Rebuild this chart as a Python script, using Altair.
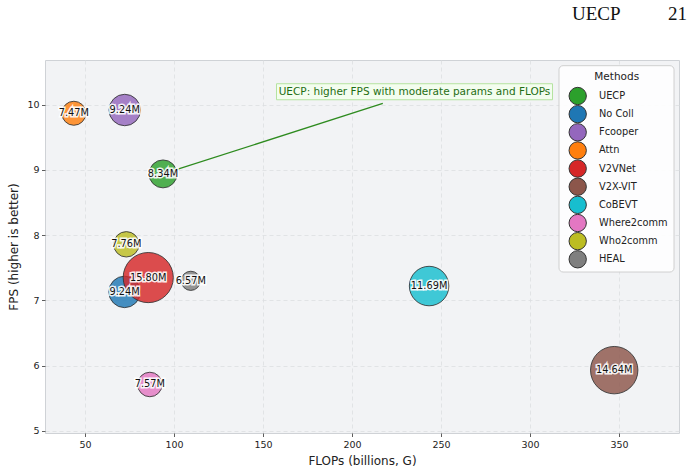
import math
import altair as alt
import pandas as pd

# ---- data ----
methods = ["UECP", "No Coll", "Fcooper", "Attn", "V2VNet", "V2X-VIT",
           "CoBEVT", "Where2comm", "Who2comm", "HEAL"]
flops = [93.8, 72.2, 72.3, 43.7, 85.5, 347.3, 243.3, 86.4, 73.2, 109.4]
fps = [8.94, 7.13, 9.92, 9.87, 7.35, 5.93, 7.22, 5.71, 7.86, 7.30]
params = [8.34, 9.24, 9.24, 7.47, 15.80, 14.64, 11.69, 7.57, 7.76, 6.57]
colors = ["#2ca02c", "#1f77b4", "#9467bd", "#ff7f0e", "#d62728", "#8c564b",
          "#17becf", "#e377c2", "#bcbd22", "#7f7f7f"]

annot_text = ["UECP: higher FPS with moderate params and FLOPs"]
annot_text_xy = [235.1, 10.20]
annot_arrow_end = [217.3, 10.02]

header_left = ["UECP"]
header_right = ["21"]
legend_title = ["Methods"]

x_ticks = [50, 100, 150, 200, 250, 300, 350]
y_ticks = [5, 6, 7, 8, 9, 10]
x_domain = [27.5, 383.7]
y_domain = [4.966, 10.687]

# bubble area scale (px^2): linear in params
size_domain = [6.232, 15.80]
size_range = [289, 2516]

df = pd.DataFrame({"method": methods, "flops": flops, "fps": fps, "params": params})
df["label"] = [f"{p:.2f}M" for p in params]
df["order"] = list(range(len(methods)))

xs = alt.Scale(domain=x_domain, nice=False, zero=False)
ys = alt.Scale(domain=y_domain, nice=False, zero=False)
color_scale = alt.Scale(domain=methods, range=colors)

x_enc = alt.X("flops:Q", scale=xs,
              axis=alt.Axis(values=x_ticks, format="d", title="FLOPs (billions, G)"))
y_enc = alt.Y("fps:Q", scale=ys,
              axis=alt.Axis(values=y_ticks, format="d", title="FPS (higher is better)",
                            titleX=-25))

base = alt.Chart(df)

# annotation line (from UECP bubble to text)
uecp_idx = methods.index("UECP")
line_df = pd.DataFrame({
    "flops": [flops[uecp_idx], annot_arrow_end[0]],
    "fps": [fps[uecp_idx], annot_arrow_end[1]],
    "seg": [0, 1],
})
line = alt.Chart(line_df).mark_line(color="#2e8b1f", strokeWidth=1.3).encode(
    x=alt.X("flops:Q", scale=xs), y=alt.Y("fps:Q", scale=ys), order="seg:Q")

points = base.mark_circle(fillOpacity=0.82, stroke="#333333", strokeWidth=1,
                          strokeOpacity=0.85).encode(
    x=x_enc,
    y=y_enc,
    color=alt.Color("method:N", scale=color_scale, legend=None),
    size=alt.Size("params:Q",
                  scale=alt.Scale(domain=size_domain, zero=False, range=size_range),
                  legend=None),
    order="order:Q",
)

halo = base.mark_text(fontSize=9.8, font="DejaVu Sans", stroke="white",
                      strokeWidth=3, strokeOpacity=0.9, color="white").encode(
    x=alt.X("flops:Q", scale=xs), y=alt.Y("fps:Q", scale=ys), text="label:N")
labels = base.mark_text(fontSize=9.8, font="DejaVu Sans", color="#111111").encode(
    x=alt.X("flops:Q", scale=xs), y=alt.Y("fps:Q", scale=ys), text="label:N")

annot_df = pd.DataFrame({"flops": [annot_text_xy[0]], "fps": [annot_text_xy[1]],
                         "t": annot_text})
box_path = "M-1,-0.058 L1,-0.058 L1,0.058 L-1,0.058 Z"
annot_box = alt.Chart(annot_df).mark_point(
    shape=box_path, size=276 ** 2, filled=True, fill="#f3fdee", fillOpacity=1,
    stroke="#b5e3a0", strokeWidth=1, opacity=1).encode(
    x=alt.X("flops:Q", scale=xs), y=alt.Y("fps:Q", scale=ys))
annot_label = alt.Chart(annot_df).mark_text(
    fontSize=10.5, font="DejaVu Sans", color="#1f6e14").encode(
    x=alt.X("flops:Q", scale=xs), y=alt.Y("fps:Q", scale=ys), text="t:N")

hdr1 = alt.Chart(pd.DataFrame({"t": header_left})).mark_text(
    font="Liberation Serif", fontSize=19, color="#111111", align="left",
    baseline="alphabetic").encode(x=alt.value(527), y=alt.value(-40.5), text="t:N")
hdr2 = alt.Chart(pd.DataFrame({"t": header_right})).mark_text(
    font="Liberation Serif", fontSize=19, color="#111111", align="right",
    baseline="alphabetic").encode(x=alt.value(642), y=alt.value(-40.5), text="t:N")

main = alt.layer(line, points, halo, labels, annot_box, annot_label, hdr1, hdr2)

# ---- legend drawn as its own layer (point scale of methods) ----
leg_df = pd.DataFrame({"method": methods})
leg_y = alt.Y("method:N", scale=alt.Scale(domain=methods, range=[36, 199.3], padding=0),
              axis=None)
leg_box = alt.Chart(pd.DataFrame({"t": legend_title})).mark_rect(
    fill="white", stroke="#cccccc", strokeWidth=1, cornerRadius=4, opacity=0.9).encode(
    x=alt.value(514), x2=alt.value(629), y=alt.value(5.7), y2=alt.value(212))
leg_title = alt.Chart(pd.DataFrame({"t": legend_title})).mark_text(
    font="DejaVu Sans", fontSize=10.5, color="#222222", align="center",
    baseline="middle").encode(x=alt.value(571.7), y=alt.value(17.3), text="t:N")
leg_sym = alt.Chart(leg_df).mark_circle(size=300, opacity=1, stroke="#333333",
                                        strokeWidth=1).encode(
    x=alt.value(532.7), y=leg_y,
    color=alt.Color("method:N", scale=color_scale, legend=None))
leg_lab = alt.Chart(leg_df).mark_text(
    font="DejaVu Sans", fontSize=9.8, color="#222222", align="left",
    baseline="middle").encode(x=alt.value(554), y=leg_y, text="method:N")
legend = alt.layer(leg_box, leg_title, leg_sym, leg_lab)

chart = alt.layer(main, legend).resolve_scale(y="independent").properties(
    width=634, height=373,
    autosize=alt.AutoSizeParams(type="none"),
    padding={"left": 45, "top": 60, "right": 15, "bottom": 43},
    background="white",
).configure_view(
    fill="#f2f3f5", stroke="#cfd2d6", strokeWidth=1,
).configure_axis(
    grid=True, gridColor="#dcdee1", gridDash=[4, 3], gridWidth=0.8,
    domain=False, tickColor="#333333", tickSize=3.5, tickWidth=0.8,
    labelFont="DejaVu Sans", labelFontSize=9.5, labelColor="#222222",
    titleFont="DejaVu Sans", titleFontSize=12, titleFontWeight="normal",
    titleColor="#222222", labelPadding=2.5,
).configure_axisX(
    titlePadding=7,
)

chart.save("out.html", embed_options={"renderer": "svg", "actions": False})
